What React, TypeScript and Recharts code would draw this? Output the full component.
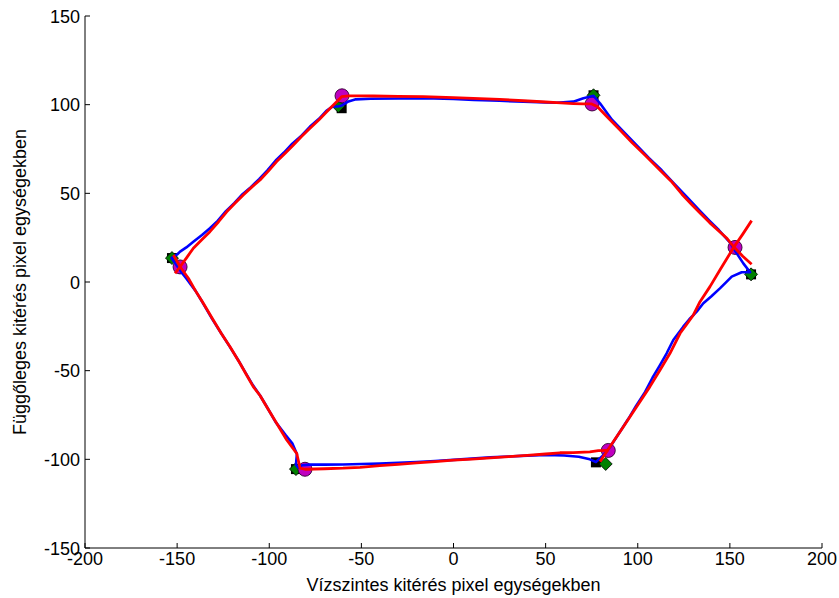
import React from 'react';
import { ScatterChart, Scatter, XAxis, YAxis } from 'recharts';

type Pt = { x: number; y: number };
const P = (x: number, y: number): Pt => ({ x, y });

// Axis ticks
const xTicks = [-200, -150, -100, -50, 0, 50, 100, 150, 200];
const yTicks = [-150, -100, -50, 0, 50, 100, 150];

// Measured trajectory (blue)
const measuredPath: Pt[] = [
  P(-62.5, 99), P(-60.7, 99.5), P(-57, 101.8), P(-53, 103), P(-45, 103.3), P(-30, 103.5),
  P(-16, 103.6), P(0, 103.2), P(11, 102.6), P(25, 102.2), P(38, 101.7), P(50, 101.3),
  P(56, 101.1), P(65, 101.7), P(70.5, 103.6), P(76, 105),
  P(79.5, 100.8), P(86, 91.5), P(92, 85), P(100, 76.5), P(106, 70), P(113, 63), P(120, 55.2),
  P(127, 47.5), P(134, 39.8), P(139, 34.5), P(144, 29.3), P(150, 22.3), P(153.7, 16.2),
  P(157.3, 10.5), P(161, 5.5),
  P(156.4, 5.5), P(151, 3), P(148.3, 0.2), P(144.6, -3.6), P(140, -8), P(135.6, -12),
  P(132, -16.7), P(128, -21), P(124.7, -25.2), P(119.3, -32.7), P(115.7, -40.2), P(112, -47),
  P(108, -54), P(104, -62), P(99, -70), P(95, -77), P(90, -85), P(85, -93), P(81, -98),
  P(77.3, -101.5),
  P(74, -100), P(68, -98.5), P(60, -97.8), P(50, -97.5), P(40, -97.9), P(30, -98.4),
  P(20, -98.9), P(10, -99.6), P(0, -100.3), P(-10, -100.9), P(-20, -101.5), P(-30, -102),
  P(-40, -102.4), P(-50, -102.6), P(-60, -102.9), P(-70, -103), P(-78, -103), P(-82, -103.3),
  P(-84.5, -104.5), P(-85.5, -103), P(-85, -97),
  P(-87.5, -91), P(-91, -86.5), P(-96.5, -79), P(-101.8, -69.5), P(-105, -64), P(-109, -58),
  P(-113, -51), P(-116.3, -45), P(-121.7, -36), P(-126, -29), P(-131, -20.8), P(-136.3, -11.3),
  P(-140, -5), P(-142.5, -1.5), P(-145, 2), P(-148, 6), P(-150, 9), P(-152, 12), P(-153, 13.5),
  P(-150, 15.5), P(-148.4, 17.1), P(-145, 19.5), P(-141.2, 22.7), P(-136.5, 26.5),
  P(-132.2, 30.3), P(-128, 34.5), P(-123.5, 40), P(-119, 44.5), P(-114.5, 49.5), P(-110, 53.5),
  P(-105.5, 58), P(-101, 63), P(-96.5, 68.5), P(-92, 73), P(-87.5, 78), P(-83, 82),
  P(-78, 87.5), P(-73, 92), P(-69, 96.5), P(-65.5, 99), P(-62.5, 99),
];

// Estimated trajectory (red), three pieces
const estimatedUpper: Pt[] = [
  P(-151.1, 4.9), P(-148.4, 8.6), P(-145, 13.5), P(-141.2, 19), P(-136.5, 24), P(-132.2, 28.4),
  P(-127.5, 34), P(-123.1, 39.6), P(-118.5, 44.5), P(-114.1, 49.1), P(-109.5, 53.5),
  P(-105, 57.5), P(-100.5, 62.5), P(-96, 67.9), P(-91.5, 72.5), P(-86.9, 77.3), P(-82.5, 82),
  P(-77.9, 86.7), P(-73, 91.5), P(-68.8, 96), P(-63.4, 101.7), P(-60.7, 104.5),
  P(-57, 105), P(-50, 105), P(-43.5, 104.9), P(-30, 104.7), P(-16.4, 104.5), P(0, 104),
  P(10.7, 103.6), P(25, 103), P(37.9, 102.2), P(50, 101.5), P(56, 101.1), P(65, 100.6),
  P(70.4, 100.4), P(75, 100.4),
  P(78, 99), P(84, 92.5), P(90.4, 85.7), P(97, 78.5), P(104, 71.5), P(112, 63.2), P(118, 57),
  P(124, 49.5), P(129, 44), P(133.8, 38.9), P(139, 33.5), P(144.6, 28.2), P(148.5, 24.5),
  P(152.2, 19.7), P(157, 14.5), P(161.8, 10),
];

const estimatedRight: Pt[] = [
  P(161.8, 34.6), P(157, 27), P(152.2, 19.7), P(144.6, 6.8), P(139.2, -2.6), P(133.8, -11.1),
  P(130.2, -18.6), P(126.5, -24), P(123, -28.9), P(117.5, -40.2), P(112.1, -49.6),
  P(106.6, -59), P(99.4, -70.3), P(92.2, -81.6), P(84.9, -92.9), P(79.5, -101.3),
];

const estimatedLower: Pt[] = [
  P(84, -95), P(78.6, -95.1), P(74, -95.8), P(65, -96.2), P(57.8, -96.3), P(50, -97),
  P(40, -97.8), P(30, -98.5), P(20, -99.2), P(10, -99.9), P(0, -100.5), P(-10, -101.3),
  P(-20, -102), P(-30, -102.8), P(-40, -103.6), P(-50.7, -104.5), P(-60, -105), P(-70, -105.3),
  P(-80.6, -105.6), P(-83.3, -104.9),
  P(-85.1, -96.6), P(-90.5, -89.1), P(-96, -79.7), P(-101.4, -70.3), P(-105, -64),
  P(-108.7, -59), P(-112, -53), P(-115.9, -45.8), P(-121.3, -36.5), P(-126, -29),
  P(-130.4, -21.4), P(-135.8, -12), P(-140, -5), P(-143.9, 2.1), P(-148.4, 8.6), P(-152, 15.2),
];

// Corner markers
const magentaCorners: Pt[] = [
  P(-60.5, 105), P(75.2, 100.4), P(152.8, 19.5), P(84, -95), P(-80.6, -105.6), P(-148.4, 8.5),
];
const greenCorners: Pt[] = [
  P(-62.5, 99.2), P(76, 105.3), P(161.5, 4.3), P(82.6, -102.6), P(-85.5, -105.5), P(-152.8, 13.5),
];
const blackCorners: Pt[] = [
  P(-60.7, 98), P(77.3, -101.7), P(76, 105.3), P(161.5, 4.3), P(-85.5, -105.5), P(-152.8, 13.5),
];

const FONT = '"Liberation Sans", Arial, Helvetica, sans-serif';

const NoPoint = () => <g />;

const SquareMark = (p: any) => (
  <rect x={p.cx - 5} y={p.cy - 5} width={10} height={10} fill="#000" />
);
const DiamondMark = (p: any) => (
  <polygon
    points={`${p.cx},${p.cy - 6.5} ${p.cx + 6.5},${p.cy} ${p.cx},${p.cy + 6.5} ${p.cx - 6.5},${p.cy}`}
    fill="#008000"
    stroke="#000"
    strokeWidth={0.8}
  />
);
const CircleMark = (p: any) => (
  <circle cx={p.cx} cy={p.cy} r={7} fill="#BF00BF" stroke="#300030" strokeWidth={0.9} />
);

const XTick = (p: any) => (
  <g>
    <line x1={p.x} x2={p.x} y1={p.y} y2={p.y - 5} stroke="#000" strokeWidth={1} />
    <text x={p.x} y={p.y + 17} textAnchor="middle" fontSize={18} fontFamily={FONT} fill="#000">
      {String(p.payload.value)}
    </text>
  </g>
);

const YTick = (p: any) => (
  <g>
    <line x1={p.x} x2={p.x + 5} y1={p.y} y2={p.y} stroke="#000" strokeWidth={1} />
    <text x={p.x - 5} y={p.y + 6.5} textAnchor="end" fontSize={18} fontFamily={FONT} fill="#000">
      {String(p.payload.value)}
    </text>
  </g>
);

const XLabel = (p: any) => {
  const vb = p.viewBox || { x: 85, y: 548, width: 737, height: 50 };
  return (
    <text x={vb.x + vb.width / 2} y={vb.y + 43} textAnchor="middle" fontSize={18} fontFamily={FONT} fill="#000">
      Vízszintes kitérés pixel egységekben
    </text>
  );
};

const YLabel = (p: any) => {
  const vb = p.viewBox || { x: 0, y: 16, width: 85, height: 532 };
  const cx = vb.x + 26;
  const cy = vb.y + vb.height / 2;
  return (
    <text x={cx} y={cy} transform={`rotate(-90, ${cx}, ${cy})`} textAnchor="middle" fontSize={18} fontFamily={FONT} fill="#000">
      Függőleges kitérés pixel egységekben
    </text>
  );
};

export default function App() {
  return (
    <div style={{ position: 'absolute', left: 0, top: 0, background: '#fff' }}>
      <ScatterChart width={839} height={598} margin={{ top: 16, right: 17, bottom: 0, left: 0 }}>
        <XAxis
          type="number"
          dataKey="x"
          domain={[-200, 200]}
          ticks={xTicks}
          allowDataOverflow
          height={50}
          tickLine={false}
          tickSize={0}
          tickMargin={0}
          tick={<XTick />}
          axisLine={{ stroke: '#000', strokeWidth: 1 }}
          label={<XLabel />}
          interval={0}
        />
        <YAxis
          type="number"
          dataKey="y"
          domain={[-150, 150]}
          ticks={yTicks}
          allowDataOverflow
          width={85}
          tickLine={false}
          tickSize={0}
          tickMargin={0}
          tick={<YTick />}
          axisLine={{ stroke: '#000', strokeWidth: 1 }}
          label={<YLabel />}
          interval={0}
        />
        <Scatter data={blackCorners} shape={SquareMark} isAnimationActive={false} />
        <Scatter data={greenCorners} shape={DiamondMark} isAnimationActive={false} />
        <Scatter data={magentaCorners} shape={CircleMark} isAnimationActive={false} />
        <Scatter
          data={measuredPath}
          line={{ stroke: '#0000FF', strokeWidth: 2.6, fill: 'none', strokeLinejoin: 'round' }}
          lineType="joint"
          shape={NoPoint}
          isAnimationActive={false}
        />
        <Scatter
          data={estimatedUpper}
          line={{ stroke: '#FF0000', strokeWidth: 2.8, fill: 'none', strokeLinejoin: 'round' }}
          lineType="joint"
          shape={NoPoint}
          isAnimationActive={false}
        />
        <Scatter
          data={estimatedRight}
          line={{ stroke: '#FF0000', strokeWidth: 2.8, fill: 'none', strokeLinejoin: 'round' }}
          lineType="joint"
          shape={NoPoint}
          isAnimationActive={false}
        />
        <Scatter
          data={estimatedLower}
          line={{ stroke: '#FF0000', strokeWidth: 2.8, fill: 'none', strokeLinejoin: 'round' }}
          lineType="joint"
          shape={NoPoint}
          isAnimationActive={false}
        />
      </ScatterChart>
    </div>
  );
}
